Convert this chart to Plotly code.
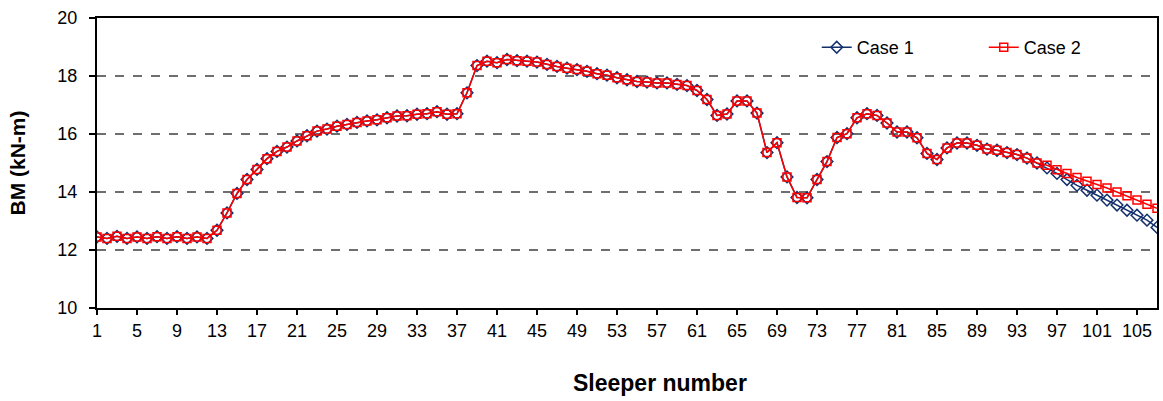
import plotly.graph_objects as go

sleepers = list(range(1, 108))

common = [12.45, 12.40, 12.47, 12.40, 12.45, 12.40, 12.46, 12.40, 12.46, 12.40,
          12.45, 12.40, 12.68, 13.28, 13.95, 14.43, 14.78, 15.15, 15.40, 15.55,
          15.76, 15.94, 16.10, 16.17, 16.27, 16.33, 16.40, 16.45, 16.49, 16.56,
          16.62, 16.63, 16.68, 16.70, 16.77, 16.68, 16.70, 17.42, 18.36, 18.51,
          18.46, 18.57, 18.53, 18.51, 18.48, 18.40, 18.33, 18.27, 18.22, 18.16,
          18.08, 18.03, 17.94, 17.87, 17.81, 17.79, 17.76, 17.76, 17.71, 17.67,
          17.50, 17.19, 16.64, 16.69, 17.14, 17.14, 16.72, 15.36, 15.70, 14.52,
          13.81, 13.80, 14.43, 15.05, 15.88, 16.01, 16.56, 16.70, 16.64, 16.38,
          16.07, 16.07, 15.87, 15.33, 15.12, 15.52, 15.69, 15.69, 15.61, 15.48,
          15.44, 15.36, 15.29, 15.17, 15.00]

case1_tail = [14.83, 14.64, 14.43, 14.23, 14.06, 13.89, 13.72, 13.55, 13.37, 13.20, 13.03, 12.78]
case2_tail = [14.92, 14.77, 14.64, 14.50, 14.37, 14.26, 14.14, 14.00, 13.87, 13.72, 13.58, 13.44]

case1 = common + case1_tail
case2 = common + case2_tail

x_ticks = list(range(1, 106, 4))
y_ticks = [10, 12, 14, 16, 18, 20]

blue = "#14306c"
red = "#ff0000"

fig = go.Figure()
fig.add_trace(go.Scatter(
    x=sleepers, y=case1, name="Case 1", mode="lines+markers",
    line=dict(color=blue, width=1.5),
    marker=dict(symbol="diamond-open", size=9, color=blue, line=dict(width=1.5, color=blue)),
))
fig.add_trace(go.Scatter(
    x=sleepers, y=case2, name="Case 2", mode="lines+markers",
    line=dict(color=red, width=1.5),
    marker=dict(symbol="square-open", size=8, color=red, line=dict(width=1.5, color=red)),
))

fig.update_layout(
    width=1163, height=401,
    margin=dict(l=97, r=6, t=18, b=93, autoexpand=False),
    paper_bgcolor="white", plot_bgcolor="white",
    font=dict(family="Liberation Sans, Arial, sans-serif", size=18, color="black"),
    showlegend=True,
    legend=dict(orientation="h", x=0.679, y=0.898, xanchor="left", yanchor="middle",
                bgcolor="rgba(0,0,0,0)", font=dict(size=18), entrywidth=122),
    annotations=[dict(
        text="<b>Sleeper number</b>", xref="paper", yref="paper",
        x=(660 - 97) / 1060, y=-(383 - 308) / 290, xanchor="center", yanchor="middle",
        showarrow=False, font=dict(size=23),
    )],
)

fig.update_xaxes(
    range=[1, 107], tickvals=x_ticks, ticktext=[str(v) for v in x_ticks],
    showgrid=False, zeroline=False,
    showline=True, linecolor="black", linewidth=2, mirror=True,
    ticks="outside", ticklen=5, tickwidth=2, tickcolor="black",
    tickfont=dict(size=18),
)
fig.update_yaxes(
    range=[10, 20], tickvals=y_ticks,
    showgrid=True, gridcolor="#6e6e6e", griddash="dash", gridwidth=1.5,
    zeroline=False,
    showline=True, linecolor="black", linewidth=2, mirror=True,
    ticks="outside", ticklen=6, tickwidth=2, tickcolor="black",
    tickfont=dict(size=18), ticklabelstandoff=8,
    title=dict(text="<b>BM (kN-m)</b>", font=dict(size=21), standoff=26),
)

fig.write_html("out.html")
